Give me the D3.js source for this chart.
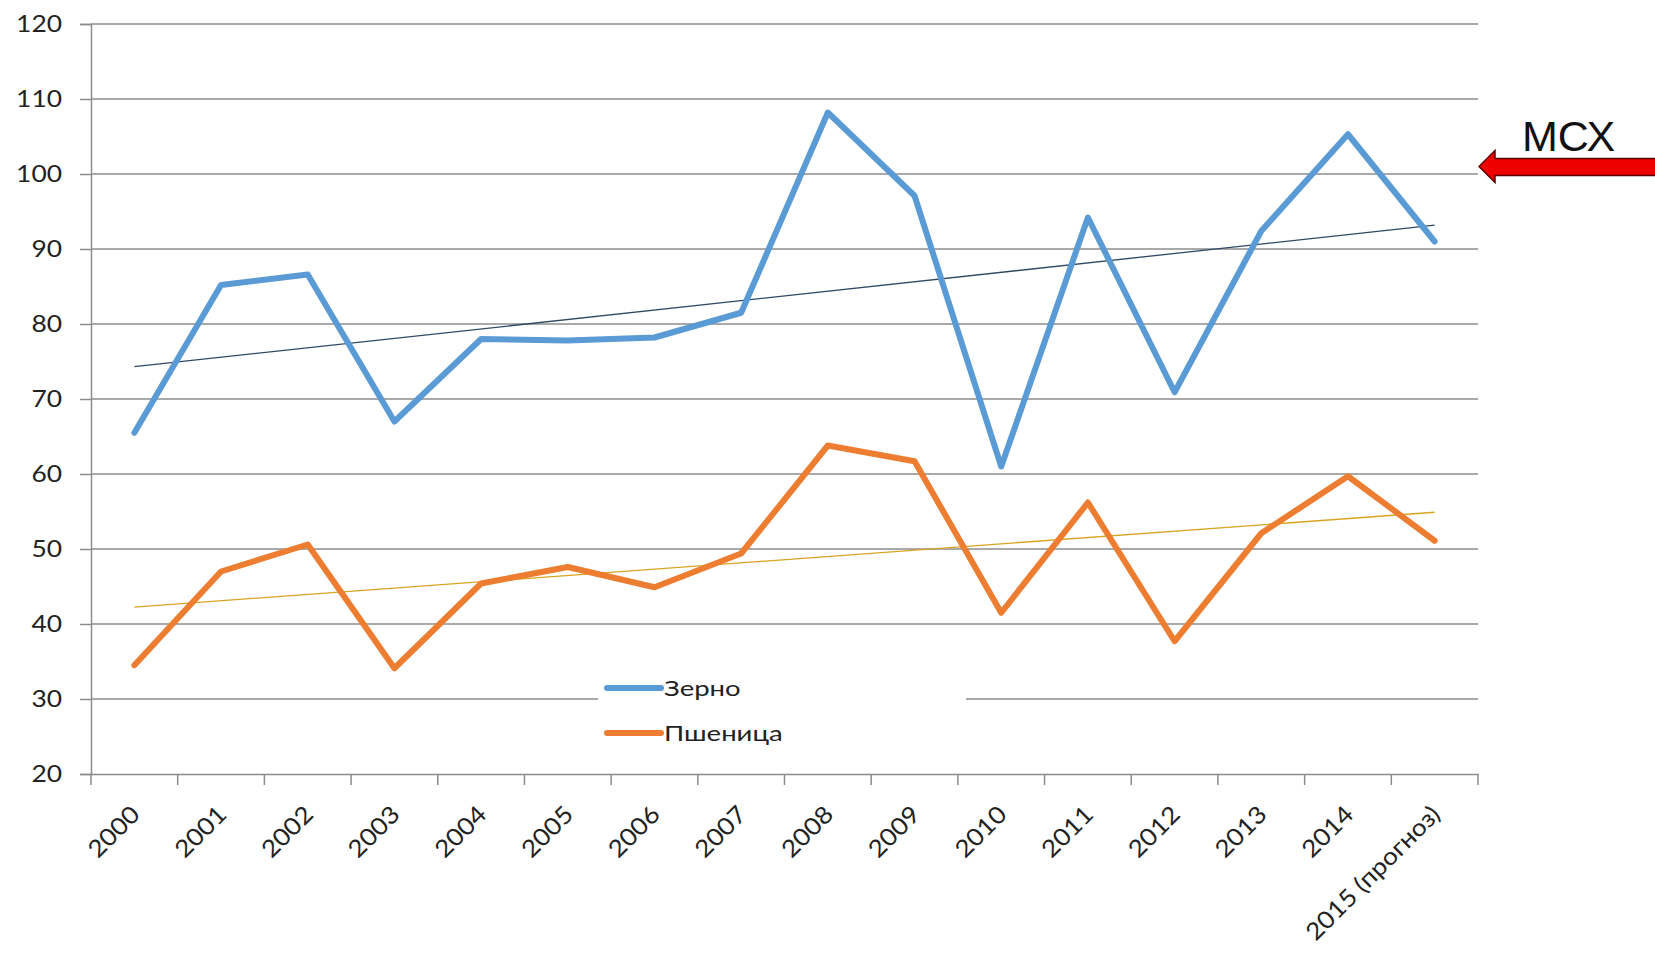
<!DOCTYPE html>
<html><head><meta charset="utf-8">
<script src="https://cdn.jsdelivr.net/npm/d3@7"></script>
<style>body{margin:0;background:#fff}svg{display:block}</style>
</head><body>
<svg id="c" width="1655" height="958"></svg>
<script>
const categories = ["2000","2001","2002","2003","2004","2005","2006","2007","2008","2009","2010","2011","2012","2013","2014","2015 (прогноз)"];
const grain = [65.5,85.2,86.6,67.0,78.0,77.8,78.2,81.5,108.2,97.1,61.0,94.2,70.9,92.4,105.3,91.0];
const wheat = [34.5,47.0,50.6,34.1,45.4,47.6,44.9,49.4,63.8,61.7,41.5,56.2,37.7,52.1,59.7,51.1];
const yTicks = [20,30,40,50,60,70,80,90,100,110,120];
const seriesNames = ["Зерно","Пшеница"];
const mcxValue = 101;

const font = "Lato, 'Open Sans', sans-serif";
const SX = 1.1; // horizontal text stretch for axis labels
const svg = d3.select("#c");
const L = 91, R = 1478, T = 24, B = 774;
const x = d3.scaleBand().domain(categories).range([L, R]);
const y = d3.scaleLinear().domain([20,120]).range([B, T]);
const cx = d => x(d) + x.bandwidth()/2;

// gridlines
svg.append("g").selectAll("line").data(yTicks.filter(v=>v>20)).join("line")
  .attr("x1", L).attr("x2", R).attr("y1", d=>y(d)).attr("y2", d=>y(d))
  .attr("stroke", "#8c8c8c").attr("stroke-width", 1.5);

// y axis
const ya = svg.append("g").attr("transform", `translate(${L},0)`)
  .call(d3.axisLeft(y).tickValues(yTicks).tickSize(11).tickPadding(0));
ya.select(".domain").attr("stroke","#8c8c8c").attr("stroke-width",1.5);
ya.selectAll(".tick line").attr("stroke","#8c8c8c").attr("stroke-width",1.5);
ya.selectAll("text").attr("x", null)
  .attr("transform", `translate(-29,0) scale(${SX},1)`)
  .attr("font-family",font).attr("font-size",24).attr("fill","#222");

// x axis
const xa = svg.append("g").attr("transform", `translate(0,${B})`)
  .call(d3.axisBottom(x).tickSize(0).tickFormat(""));
xa.select(".domain").attr("stroke","#8c8c8c").attr("stroke-width",1.5);
const xt = d3.range(categories.length+1).map(i => L + i*x.step());
svg.append("g").selectAll("line").data(xt).join("line")
  .attr("x1", d=>d).attr("x2", d=>d).attr("y1", B).attr("y2", B+11)
  .attr("stroke","#8c8c8c").attr("stroke-width",1.5);
svg.append("g").selectAll("text").data(categories).join("text")
  .attr("transform", d => `translate(${cx(d)+7},${B+42}) rotate(-45) scale(${SX},1)`)
  .attr("text-anchor","end").attr("font-family",font).attr("font-size",24).attr("fill","#222")
  .text(d=>d);

// trendlines (least squares, as in the source chart)
function trend(vals){
  const n = vals.length, xs = d3.range(n);
  const mx = d3.mean(xs), my = d3.mean(vals);
  const b = d3.sum(xs, i => (i-mx)*(vals[i]-my)) / d3.sum(xs, i => (i-mx)**2);
  const a = my - b*mx;
  return [[0, a], [n-1, a + b*(n-1)]];
}
const lineT = d3.line().x(d => cx(categories[d[0]])).y(d => y(d[1]));
svg.append("path").attr("d", lineT(trend(grain))).attr("fill","none")
  .attr("stroke","#2f4a66").attr("stroke-width",1.3);
svg.append("path").attr("d", lineT(trend(wheat))).attr("fill","none")
  .attr("stroke","#d9a521").attr("stroke-width",1.3);

// series lines
const line = d3.line().x((d,i)=>cx(categories[i])).y(d=>y(d));
svg.append("path").attr("d", line(grain)).attr("fill","none")
  .attr("stroke","#5b9bd5").attr("stroke-width",6).attr("stroke-linejoin","round").attr("stroke-linecap","round");
svg.append("path").attr("d", line(wheat)).attr("fill","none")
  .attr("stroke","#ed7d31").attr("stroke-width",6).attr("stroke-linejoin","round").attr("stroke-linecap","round");

// legend
const lg = svg.append("g");
lg.append("rect").attr("x",598).attr("y",672).attr("width",368).attr("height",70).attr("fill","#fff");
const colors = ["#5b9bd5","#ed7d31"];
seriesNames.forEach((n,i)=>{
  const yy = 688 + i*45;
  lg.append("line").attr("x1",607).attr("x2",661).attr("y1",yy).attr("y2",yy)
    .attr("stroke",colors[i]).attr("stroke-width",6).attr("stroke-linecap","round");
  lg.append("text").attr("transform",`translate(664,${yy+8}) scale(1.25,1)`)
    .attr("font-family",font).attr("font-size",22).attr("fill","#222").text(n);
});

// MCX arrow
const ay = y(mcxValue);
svg.append("path")
  .attr("d", `M1479,${ay} L1495,${ay-16} L1495,${ay-8} L1660,${ay-8} L1660,${ay+9} L1495,${ay+9} L1495,${ay+16} Z`)
  .attr("fill","#ee0000").attr("stroke","#5a0000").attr("stroke-width",1.5).attr("stroke-linejoin","miter");
svg.append("text").attr("x",1522).attr("y",151).attr("font-family","Liberation Sans, Arial, sans-serif")
  .attr("font-size",43).attr("fill","#111").text("МСХ");
</script>
</body></html>
